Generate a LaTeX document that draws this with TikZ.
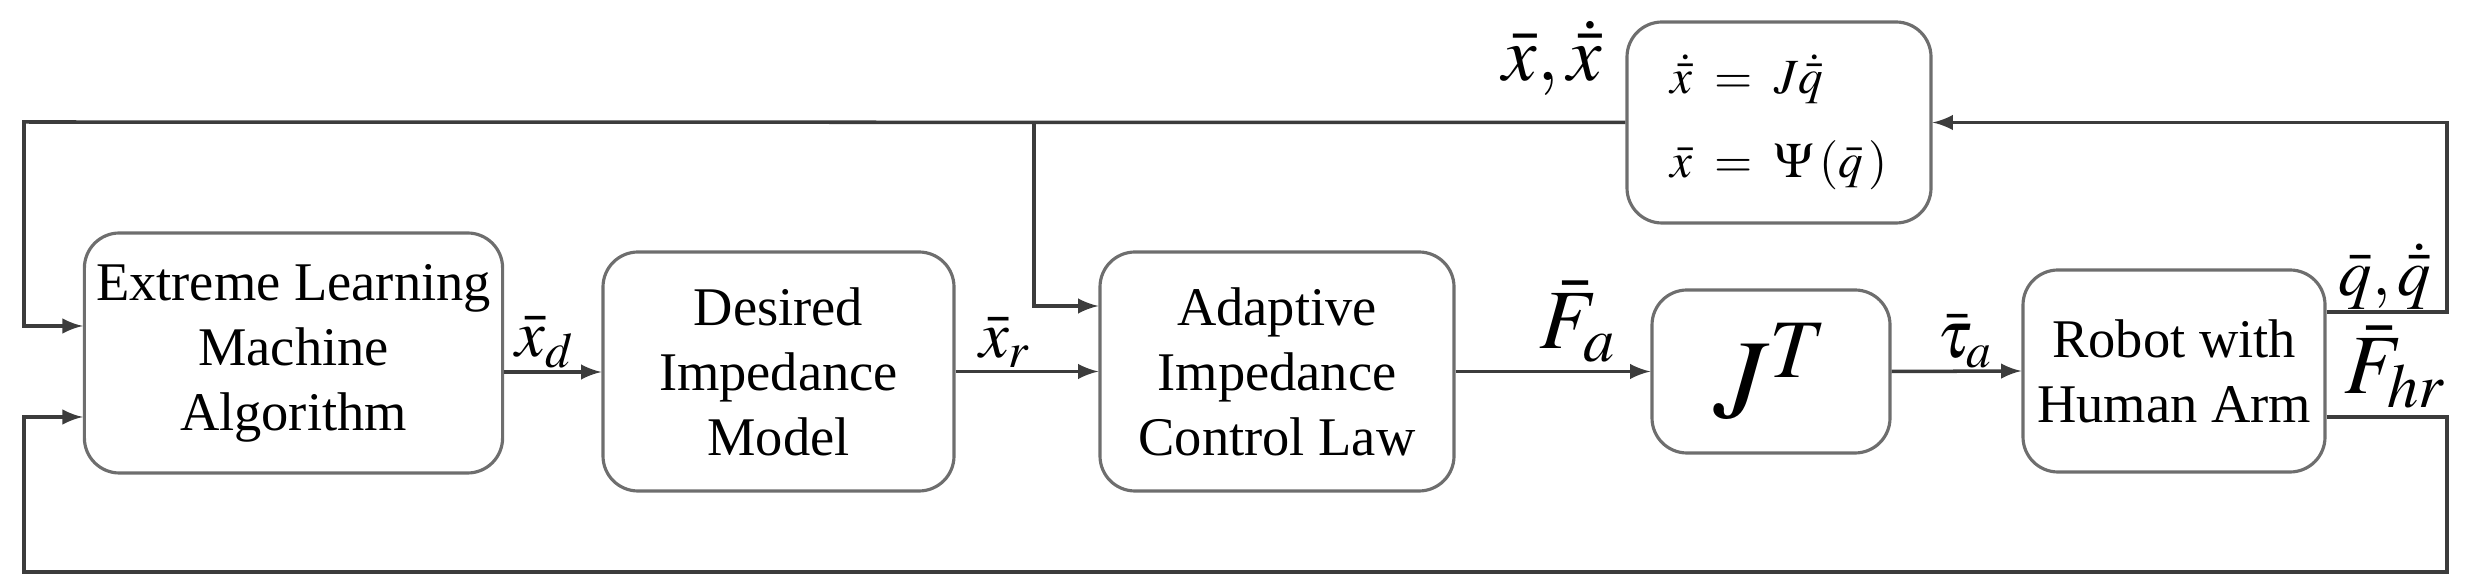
\documentclass[tikz,border=0pt]{standalone}
\usepackage{amsmath}
\usepackage{mathptmx}
\usepackage[no-math]{fontspec}
\setmainfont{Liberation Serif}
\newfontfamily\blockfont{Liberation Serif}
\usepackage{tikz}
\usetikzlibrary{arrows, positioning, calc}
\definecolor{boxgray}{RGB}{110,110,110}
\definecolor{linegray}{RGB}{60,60,60}

\tikzset{
  block/.style={rectangle, rounded corners=0.35cm, draw=boxgray, line width=0.9pt, align=center, font=\blockfont\fontsize{15.5}{18.5}\selectfont},
  sig/.style={draw=linegray, line width=1pt, -latex},
  wire/.style={draw=linegray, line width=1pt},
  lbl/.style={inner sep=1pt, font=\fontsize{19}{20}\selectfont}
}

\begin{document}
\begin{tikzpicture}
\useasboundingbox (0,0) rectangle (24.65,-5.87);

% Main blocks
\node[block, minimum width=4.09cm, minimum height=2.40cm] (elm) at (2.935,-3.53) {Extreme Learning\\Machine\\Algorithm};
\node[block, minimum width=3.51cm, minimum height=2.39cm] (dim) at (7.785,-3.715) {Desired\\Impedance\\Model};
\node[block, minimum width=3.54cm, minimum height=2.39cm] (acl) at (12.77,-3.715) {Adaptive\\Impedance\\Control Law};
\node[block, minimum width=2.38cm, minimum height=1.63cm, font=\fontsize{32}{32}\selectfont] (jt) at (17.71,-3.715) {$J^{T}$};
\node[block, minimum width=3.02cm, minimum height=2.02cm] (rob) at (21.74,-3.71) {Robot with\\Human Arm};

% Kinematics block
\node[block, minimum width=3.04cm, minimum height=2.01cm, align=left, font=\fontsize{14}{24}\selectfont] (kin) at (17.79,-1.225)
  {$\dot{\bar{x}} \;=\; J\dot{\bar{q}}$\\$\bar{x} \;=\; \Psi\left(\bar{q}\,\right)$};

% Corner points
\coordinate (tl) at (0.24,-1.22);
\coordinate (br) at (10.34,-1.22);
\coordinate (qr) at (24.47,-3.12);
\coordinate (fr) at (24.47,-4.17);
\coordinate (bl) at (0.24,-5.72);

% Forward path
\draw[sig] (elm.east |- 0,-3.72) -- (dim.west |- 0,-3.72);
\draw[sig] (dim.east) -- (acl.west);
\draw[sig] (acl.east) -- (jt.west);
\draw[sig] (jt.east) -- (rob.west);

% Feedback paths
\draw[sig] (rob.east |- qr) -- (qr) |- (kin.east);
\draw[sig] (kin.west) -- (tl) |- (elm.west |- 0,-3.26);
\draw[sig] (br) |- (acl.west |- 0,-3.06);
\draw[sig] (rob.east |- fr) -- (fr) -- (fr |- bl) -- (bl) |- (elm.west |- 0,-4.17);

% Signal labels
\node[lbl, anchor=south] (xd) at (5.45,-3.72) {$\bar{x}_d$};
\node[lbl, anchor=south] (xr) at (10.05,-3.72) {$\bar{x}_r$};
\node[lbl, anchor=south, font=\fontsize{24}{25}\selectfont] (fa) at (15.78,-3.66) {$\bar{F}_a$};
\node[lbl, anchor=south] (tau) at (19.65,-3.72) {$\bar{\tau}_a$};
\node[lbl, anchor=south] (qq) at (23.85,-3.14) {$\bar{q},\dot{\bar{q}}$};
\node[lbl, anchor=north, font=\fontsize{24}{25}\selectfont] (fhr) at (23.95,-3.22) {$\bar{F}_{hr}$};
\node[lbl, anchor=south, font=\fontsize{22}{23}\selectfont] (xx) at (15.52,-1.0) {$\bar{x},\dot{\bar{x}}$};
\end{tikzpicture}
\end{document}
